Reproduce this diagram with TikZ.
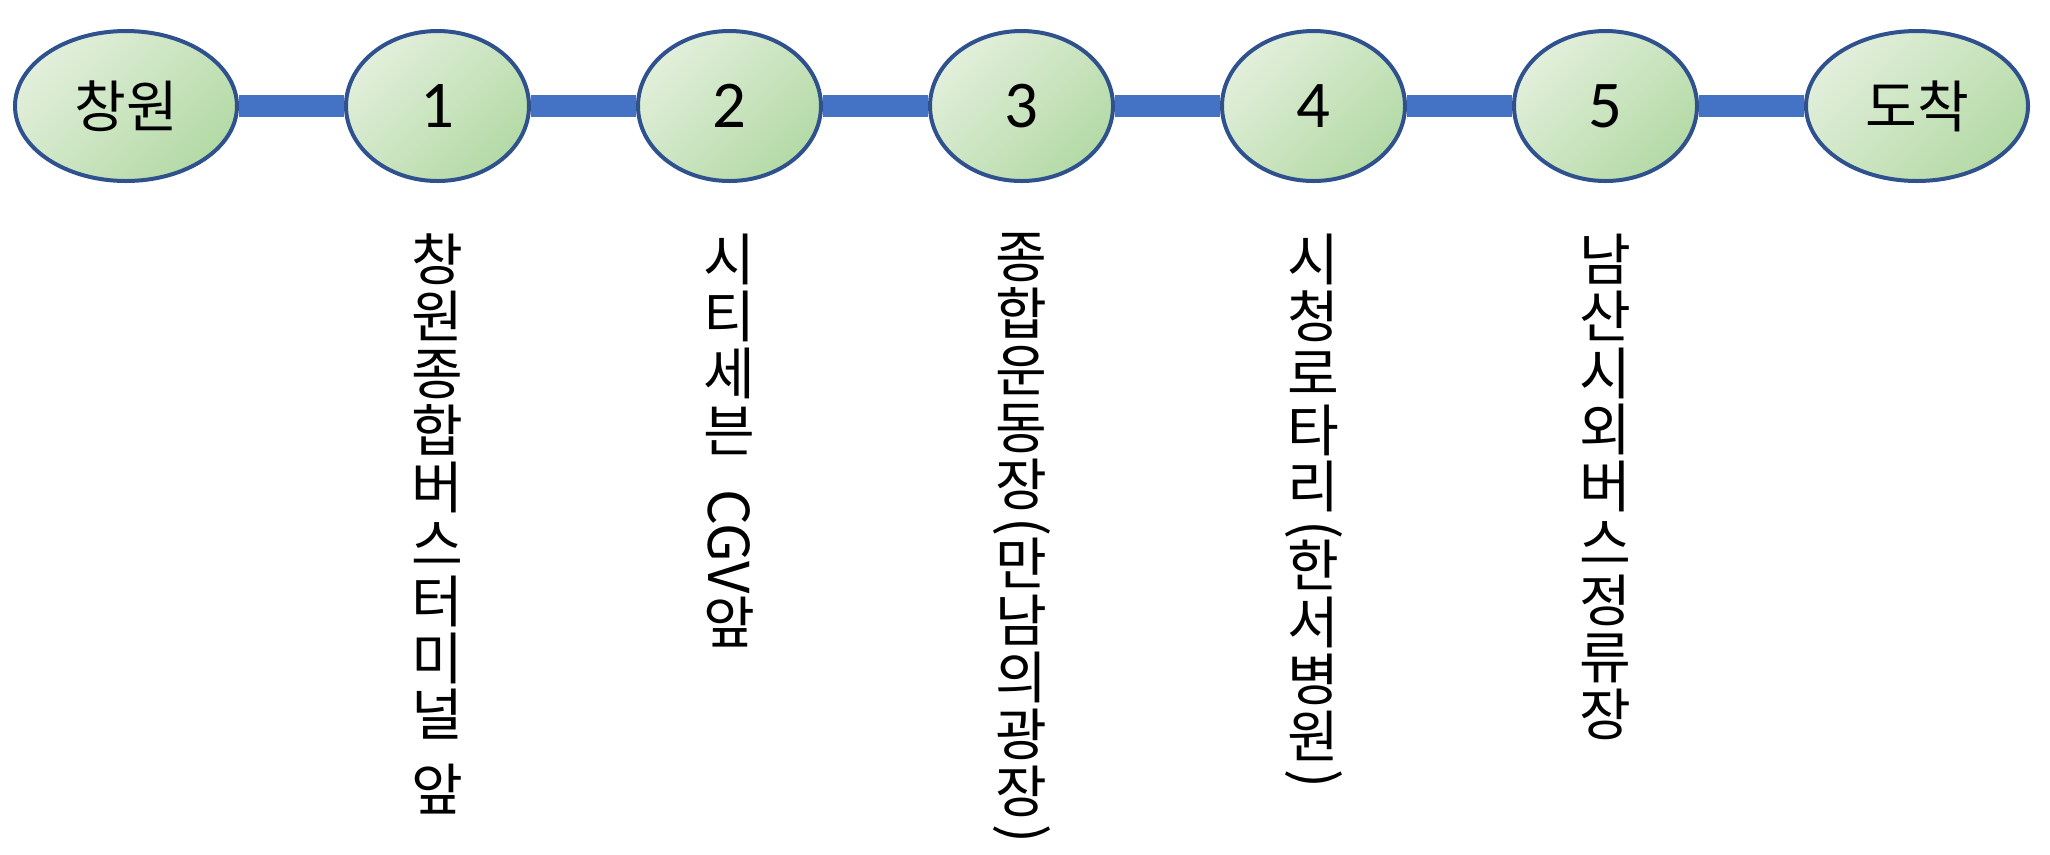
\documentclass[tikz,border=0pt]{standalone}
\usepackage{fontspec}
\usepackage{graphicx}
\setmainfont{Noto Sans CJK KR}
\newfontfamily\numfont{Carlito}
\usepackage{tikz}
\usetikzlibrary{shapes.geometric, backgrounds}
\usetikzlibrary{positioning}
\definecolor{routeblue}{HTML}{4472C4}
\definecolor{rimblue}{HTML}{2F528F}
\definecolor{greenlight}{HTML}{E2EFDB}
\definecolor{greendark}{HTML}{B4DAA6}
\newcommand{\sidew}[1]{\rotatebox[origin=c]{-90}{#1}}
\tikzstyle{route} = [line width=0.22cm, draw=routeblue]
\tikzstyle{station} = [ellipse, minimum width=1.83cm, minimum height=1.50cm, draw=rimblue, line width=0.04cm, top color=greenlight, bottom color=greendark, shading angle=45, font=\fontsize{16}{18}\selectfont]
\tikzstyle{terminal} = [station, minimum width=2.22cm]
\tikzstyle{vlabel} = [inner sep=0pt, align=center, anchor=north, font=\fontsize{16}{16.2}\selectfont]

\begin{document}
\begin{tikzpicture}[node distance=1.05cm]
\useasboundingbox (0,0) rectangle (20.5,-8.54);
\node (changwon) [terminal] at (1.26,-1.06) {창원};
\node (stop1) [station, right=of changwon] {\numfont\fontsize{19}{20}\selectfont 1};
\node (stop2) [station, right=of stop1] {\numfont\fontsize{19}{20}\selectfont 2};
\node (stop3) [station, right=of stop2] {\numfont\fontsize{19}{20}\selectfont 3};
\node (stop4) [station, right=of stop3] {\numfont\fontsize{19}{20}\selectfont 4};
\node (stop5) [station, right=of stop4] {\numfont\fontsize{19}{20}\selectfont 5};
\node (arrival) [terminal, right=of stop5] {도착};

\begin{scope}[on background layer]
\draw [route] (changwon) -- (stop1) -- (stop2) -- (stop3) -- (stop4) -- (stop5) -- (arrival);
\end{scope}

% stop names, set upright one under the other
\node (name1) [vlabel, below=0.5cm of stop1] {창\\원\\종\\합\\버\\스\\터\\미\\널\\[5pt]앞};
\node (name2) [vlabel, below=0.5cm of stop2] {시\\티\\세\\븐\\[9pt]\sidew{CGV}\\앞};
\node (name3) [vlabel, below=0.5cm of stop3] {종\\합\\운\\동\\장\\[-5pt]\sidew{(}\\[-5pt]만\\남\\의\\광\\장\\[-5pt]\sidew{)}};
\node (name4) [vlabel, below=0.5cm of stop4] {시\\청\\로\\타\\리\\[-5pt]\sidew{(}\\[-5pt]한\\서\\병\\원\\[-5pt]\sidew{)}};
\node (name5) [vlabel, below=0.5cm of stop5] {남\\산\\시\\외\\버\\스\\정\\류\\장};
\end{tikzpicture}
\end{document}
